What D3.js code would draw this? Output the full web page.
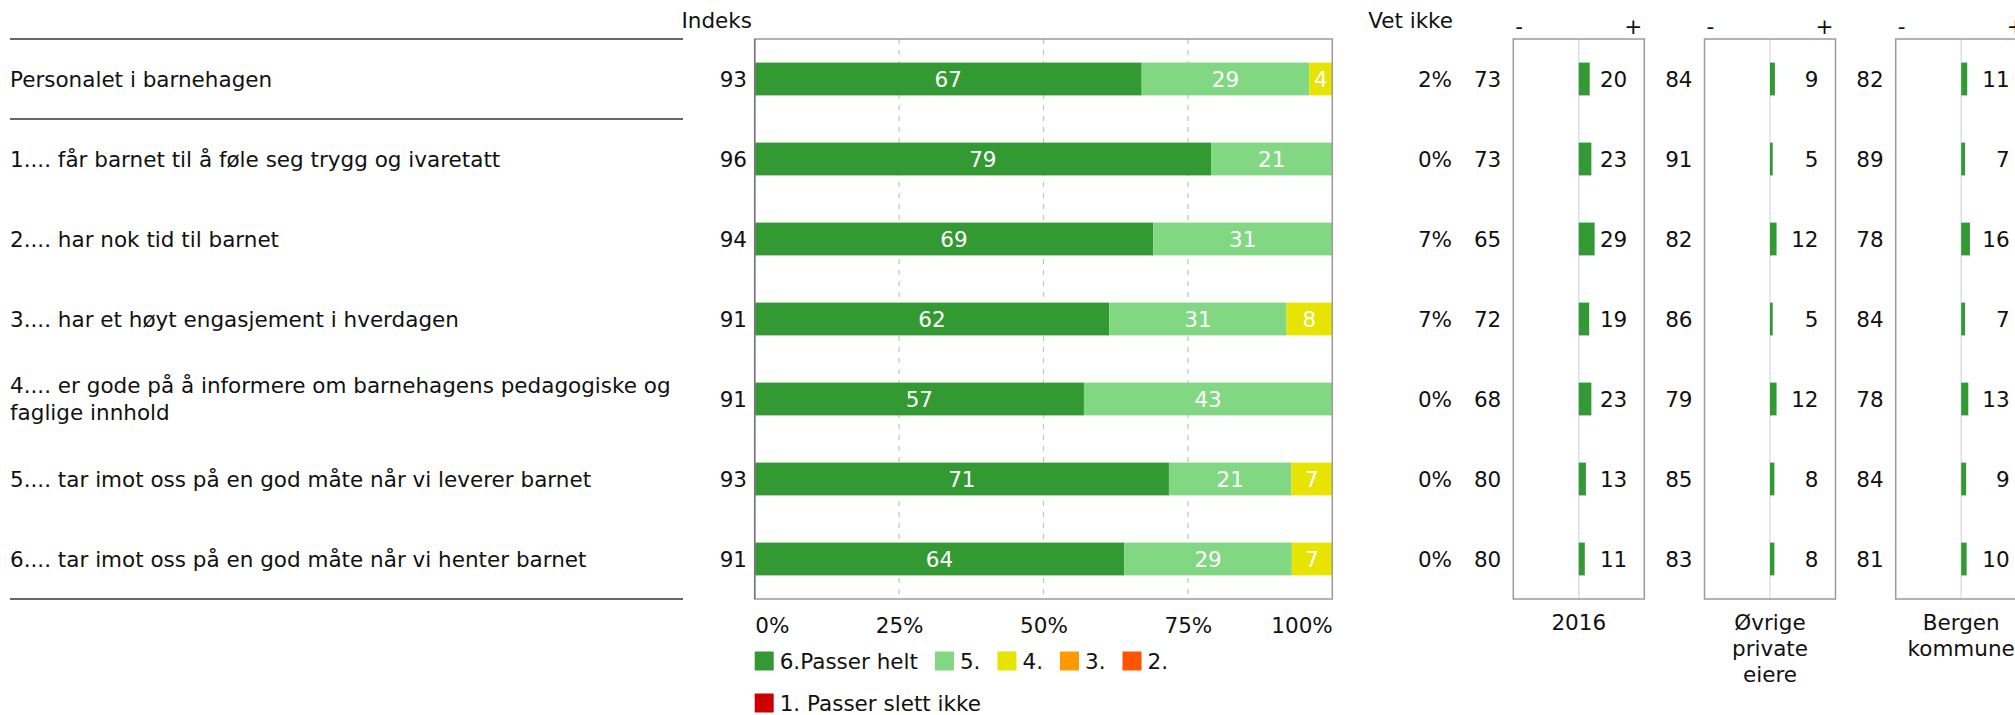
<!DOCTYPE html>
<html><head><meta charset="utf-8">
<script src="https://cdn.jsdelivr.net/npm/d3@7"></script>
<style>
body{margin:0;background:#fff;overflow:hidden;}
text{font-family:Verdana,"DejaVu Sans",sans-serif;font-size:21.5px;fill:#111;}
</style>
</head><body><svg id="c" width="2015" height="715"></svg>
<script>
// ---------- data ----------
const categories = [
  "Personalet i barnehagen",
  "1.... får barnet til å føle seg trygg og ivaretatt",
  "2.... har nok tid til barnet",
  "3.... har et høyt engasjement i hverdagen",
  "4.... er gode på å informere om barnehagens pedagogiske og faglige innhold",
  "5.... tar imot oss på en god måte når vi leverer barnet",
  "6.... tar imot oss på en god måte når vi henter barnet"
];
const indeks = [93, 96, 94, 91, 91, 93, 91];
const s6 = [67, 79, 69, 62, 57, 71, 64];
const s5 = [29, 21, 31, 31, 43, 21, 29];
const s4 = [4, 0, 0, 8, 0, 7, 7];
const s3 = [0, 0, 0, 0, 0, 0, 0];
const s2 = [0, 0, 0, 0, 0, 0, 0];
const s1 = [0, 0, 0, 0, 0, 0, 0];
const seriesNames = ["6.Passer helt", "5.", "4.", "3.", "2.", "1. Passer slett ikke"];
const seriesColors = ["#339933", "#82d882", "#e6e400", "#ff9900", "#ff5500", "#cc0000"];
const vetIkke = ["2%", "0%", "7%", "7%", "0%", "0%", "0%"];
const xTicks = [0, 25, 50, 75, 100];
const panelNames = ["2016", "Øvrige private eiere", "Bergen kommune"];
const index2016 = [73, 73, 65, 72, 68, 80, 80];
const diff2016 = [20, 23, 29, 19, 23, 13, 11];
const indexPrivate = [84, 91, 82, 86, 79, 85, 83];
const diffPrivate = [9, 5, 12, 5, 12, 8, 8];
const indexBergen = [82, 89, 78, 84, 78, 84, 81];
const diffBergen = [11, 7, 16, 7, 13, 9, 10];

// ---------- layout ----------
const svg = d3.select("#c");
const yTop = 39, yBottom = 599;
const plotL = 754.7, plotR = 1332.3;
const rows = d3.range(categories.length);
const yRow = d3.scaleBand().domain(rows).range([yTop, yBottom]);
const yBar = d3.scaleBand().domain(rows).range([yTop, yBottom]).paddingInner(0.59).paddingOuter(0.295);
const x = d3.scaleLinear().domain([0, 100]).range([plotL, plotR]);
const cy = i => yRow(i) + yRow.bandwidth() / 2;

// left separator lines
[0, 1, categories.length].forEach(k => {
  const yy = k === categories.length ? yBottom : yRow(k);
  svg.append("line").attr("x1", 10).attr("x2", 683).attr("y1", yy).attr("y2", yy)
    .attr("stroke", "#333").attr("stroke-width", 1.5);
});

// category labels (with wrapping)
const maxLabelW = 676;
rows.forEach(i => {
  const t = svg.append("text").attr("x", 10);
  const words = categories[i].split(" ");
  let lines = [], cur = [];
  const probe = svg.append("text").attr("x", -1000);
  words.forEach(w => {
    const test = cur.concat([w]).join(" ");
    probe.text(test);
    if (probe.node().getComputedTextLength() > maxLabelW && cur.length) {
      lines.push(cur.join(" ")); cur = [w];
    } else cur.push(w);
  });
  lines.push(cur.join(" "));
  probe.remove();
  const lh = 26.5;
  const y0 = cy(i) - (lines.length - 1) * lh / 2;
  lines.forEach((ln, k) => {
    t.append("tspan").attr("x", 10).attr("y", y0 + k * lh).attr("dy", "0.36em").text(ln);
  });
});

// headers
svg.append("text").attr("x", 752).attr("y", 20).attr("dy", "0.36em").attr("text-anchor", "end").text("Indeks");
svg.append("text").attr("x", 1453).attr("y", 20).attr("dy", "0.36em").attr("text-anchor", "end").text("Vet ikke");

// index values
svg.selectAll(".idx").data(indeks).join("text").attr("class", "idx")
  .attr("x", 747).attr("y", (d, i) => cy(i)).attr("dy", "0.36em").attr("text-anchor", "end").text(d => d);

// gridlines
svg.selectAll(".grid").data([25, 50, 75]).join("line").attr("class", "grid")
  .attr("x1", d => x(d)).attr("x2", d => x(d)).attr("y1", yTop).attr("y2", yBottom)
  .attr("stroke", "#c4c4c4").attr("stroke-width", 1.2).attr("stroke-dasharray", "5,6");

// stacked bars
const series = [s6, s5, s4, s3, s2, s1];
const table = rows.map(i => {
  const o = { i };
  const total = d3.sum(series, s => s[i]);
  series.forEach((s, k) => o["k" + k] = s[i] / total * 100);
  o.raw = series.map(s => s[i]);
  return o;
});
const keys = series.map((s, k) => "k" + k);
const stacked = d3.stack().keys(keys)(table);
const g = svg.append("g");
stacked.forEach((layer, k) => {
  layer.forEach((seg, i) => {
    const w = x(seg[1]) - x(seg[0]);
    if (w <= 0) return;
    g.append("rect").attr("x", x(seg[0])).attr("y", yBar(i)).attr("width", w)
      .attr("height", yBar.bandwidth()).attr("fill", seriesColors[k]);
    g.append("text").attr("x", (x(seg[0]) + x(seg[1])) / 2).attr("y", cy(i)).attr("dy", "0.36em")
      .attr("text-anchor", "middle").style("fill", "#fff").text(table[i].raw[k]);
  });
});

// plot border
svg.append("rect").attr("x", plotL).attr("y", yTop).attr("width", plotR - plotL).attr("height", yBottom - yTop)
  .attr("fill", "none").attr("stroke", "#9a9a9a").attr("stroke-width", 1.5);
svg.append("line").attr("x1", plotL).attr("x2", plotL).attr("y1", yTop).attr("y2", yBottom)
  .attr("stroke", "#777").attr("stroke-width", 1.5);

// x axis
const ax = svg.append("g").attr("transform", `translate(0,${yBottom})`)
  .call(d3.axisBottom(x).tickValues(xTicks).tickFormat(d => d + "%").tickSize(0).tickPadding(0));
ax.select(".domain").remove();
ax.attr("font-size", null).attr("font-family", null);
ax.selectAll("text").attr("y", 26).attr("dy", "0.36em").style("fill", "#111")
  .attr("text-anchor", (d, i) => i === 0 ? "start" : (i === xTicks.length - 1 ? "end" : "middle"));

// legend
let lx = plotL, ly = 661;
const legendMax = plotR;
seriesNames.forEach((name, k) => {
  const probe = svg.append("text").attr("x", -1000).text(name);
  const tw = probe.node().getComputedTextLength();
  probe.remove();
  if (lx + 25 + tw > legendMax + 5) { lx = plotL; ly += 42; }
  svg.append("rect").attr("x", lx).attr("y", ly - 9.5).attr("width", 19).attr("height", 19).attr("fill", seriesColors[k]);
  svg.append("text").attr("x", lx + 25).attr("y", ly).attr("dy", "0.36em").text(name);
  lx += 25 + tw + 17;
});

// vet ikke
svg.selectAll(".vet").data(vetIkke).join("text").attr("class", "vet")
  .attr("x", 1452).attr("y", (d, i) => cy(i)).attr("dy", "0.36em").attr("text-anchor", "end").text(d => d);

// comparison panels
const panels = [
  { name: panelNames[0], idx: index2016, diff: diff2016 },
  { name: panelNames[1], idx: indexPrivate, diff: diffPrivate },
  { name: panelNames[2], idx: indexBergen, diff: diffBergen }
];
const panelW = 131, panelStep = 191.2, panel0 = 1513.3;
panels.forEach((p, j) => {
  const L = panel0 + j * panelStep, R = L + panelW;
  const px = d3.scaleLinear().domain([-120, 120]).range([L, R]);
  const pg = svg.append("g");
  pg.append("line").attr("x1", px(0)).attr("x2", px(0)).attr("y1", yTop).attr("y2", yBottom)
    .attr("stroke", "#dcdcf2").attr("stroke-width", 1.5);
  pg.append("rect").attr("x", L).attr("y", yTop).attr("width", panelW).attr("height", yBottom - yTop)
    .attr("fill", "none").attr("stroke", "#9a9a9a").attr("stroke-width", 1.5);
  pg.append("text").attr("x", L + 2).attr("y", 26).attr("dy", "0.36em").text("-");
  pg.append("text").attr("x", R - 2).attr("y", 26).attr("dy", "0.36em").attr("text-anchor", "end").text("+");
  p.diff.forEach((d, i) => {
    pg.append("rect").attr("x", Math.min(px(0), px(d))).attr("y", yBar(i))
      .attr("width", Math.abs(px(d) - px(0))).attr("height", yBar.bandwidth()).attr("fill", "#339933");
    pg.append("text").attr("x", R - 17).attr("y", cy(i)).attr("dy", "0.36em").attr("text-anchor", "end").text(d);
  });
  p.idx.forEach((d, i) => {
    pg.append("text").attr("x", L - 12).attr("y", cy(i)).attr("dy", "0.36em").attr("text-anchor", "end").text(d);
  });
  const words = p.name.split(" ");
  words.forEach((w, k) => {
    pg.append("text").attr("x", px(0)).attr("y", 622 + k * 26).attr("dy", "0.36em")
      .attr("text-anchor", "middle").text(w);
  });
});
</script>
</body></html>
